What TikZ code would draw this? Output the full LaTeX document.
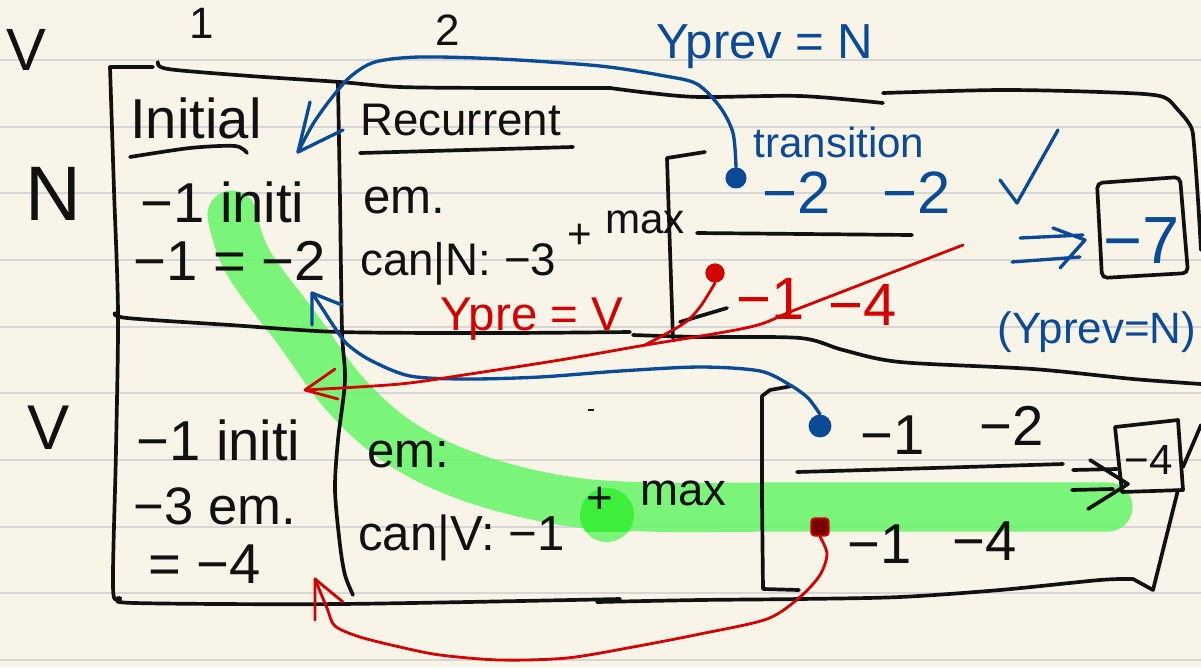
\documentclass[tikz,border=0pt]{standalone}
\usepackage{fontspec}
\setmainfont{Liberation Sans}
\definecolor{paper}{HTML}{F8F5E8}
\definecolor{rulecol}{HTML}{D6D6D6}
\definecolor{ink}{HTML}{111111}
\definecolor{penblue}{HTML}{0B4A96}
\definecolor{penred}{HTML}{D40000}
\definecolor{hlgreen}{HTML}{65F566}
\definecolor{hldark}{HTML}{3DEE3A}
\definecolor{darkred}{HTML}{7A0000}
\newcommand{\hsz}[1]{\fontsize{#1}{#1}\selectfont}
\begin{document}
\begin{tikzpicture}[x=0.02cm,y=-0.02cm,
  frame/.style={draw=ink,line width=2.1pt,line cap=round,line join=round},
  bluepen/.style={draw=penblue,line width=1.9pt,line cap=round,line join=round},
  redpen/.style={draw=penred,line width=1.6pt,line cap=round,line join=round},
  txt/.style={inner sep=0pt,text=ink},
  btxt/.style={inner sep=0pt,text=penblue},
  rtxt/.style={inner sep=0pt,text=penred},
  dotnode/.style={circle,inner sep=0pt},
]
\fill[paper] (0,0) rectangle (1201,667);
\useasboundingbox (0,0) rectangle (1201,667);
\foreach \k in {0,...,9} \draw[rulecol,line width=1.1pt] (0,{60+66.67*\k}) -- (1201,{60+66.67*\k});

% green highlight
\draw[hlgreen,opacity=0.85,line width=28pt,line cap=round] plot[smooth,tension=0.6] coordinates {(232,215) (248,262) (298,330) (345,394) (400,443) (470,477) (560,500) (650,507) (800,507) (1108,507)};
\fill[hlgreen,opacity=0.85] (607,515) circle (27);
\begin{scope}
\clip (570,481) rectangle (650,531);
\fill[hldark] (607,515) circle (27);
\end{scope}

% frame
\draw[frame] (153,67) -- plot[smooth] coordinates {(110,67) (114,190) (118,313) (116,450) (113,587) (120,598) (135,603) (340,604) (620,599)};
\draw[frame] plot[smooth] coordinates {(158,62) (168,69) (250,76) (340,82) (400,87) (500,88) (610,88)};
\draw[frame] plot[smooth] coordinates {(610,88) (650,93) (700,97) (800,96) (883,103)};
\draw[frame] plot[smooth] coordinates {(883,93) (1000,90) (1100,92) (1160,96) (1178,110) (1191,127) (1194,145) (1198,200) (1201,250)};
\draw[frame] plot[smooth] coordinates {(338,83) (340,200) (342,330) (345,380) (338,440) (335,490) (340,545) (345,575) (353,595)};
\draw[frame] plot[smooth] coordinates {(115,313) (127,318) (230,325) (340,332) (500,333) (630,332)};
\draw[frame] plot[smooth] coordinates {(633,335) (700,337) (800,338) (843,350) (900,362) (1033,369) (1133,379) (1201,384)};
\draw[frame] plot[smooth] coordinates {(597,602) (700,600) (800,599) (900,597) (1000,590) (1100,580) (1133,579)} -- (1153,590) -- (1178,490);
\draw[frame] (1115,427) -- (1178,420) -- (1183,490) -- (1122,492) -- cycle;
\draw[frame] (1183,467) -- (1201,425);
\draw[frame,rounded corners=3pt] (1097,183) -- (1180,177) -- (1188,273) -- (1102,278) -- cycle;
% brackets and fraction bars
\draw[frame] (705,152) -- (667,158) -- (670,250) -- (673,338);
\draw[frame] (680,322) -- (727,308);
\draw[frame] (697,233) -- (912,235);
\draw[frame] (792,386) -- (770,390) -- (762,396) -- (762,500) -- (763,589) -- (799,590);
\draw[frame] plot[smooth] coordinates {(797,472) (900,469) (1063,464)};
% underlines
\draw[frame] plot[smooth] coordinates {(130,157) (190,148) (235,146) (247,153)};
\draw[frame] (360,153) -- (573,147);
% black double arrow
\draw[frame] (1073,470) -- (1117,469) (1072,490) -- (1113,489) (1090,460) -- (1128,484) -- (1088,509);
\draw[ink,line width=1pt] (588,410) -- (594,410);

% texts
\node[txt,font={\hsz{34}},anchor=base] (lblV1) at (26,70) {V};
\node[txt,font={\hsz{25}},anchor=base] (col1) at (202,38) {1};
\node[txt,font={\hsz{25}},anchor=base] (col2) at (448,45) {2};
\node[txt,font={\hsz{44}},anchor=base] (rowN) at (53,220) {N};
\node[txt,font={\hsz{36}},anchor=base] (rowV) at (49,449) {V};
\node[txt,font={\hsz{32}},anchor=base west] (initial) at (130,138) {Initial};
\node[txt,font={\hsz{26}},anchor=base west] (recurrent) at (360,135) {Recurrent};
\node[txt,font={\hsz{28}},anchor=base west] (emN) at (363,213) {em.};
\node[txt,font={\hsz{26}},anchor=base west] (canN) at (360,275) {can|N: −3};
\node[txt,font={\hsz{24}}] (plusN) at (580,236) {+};
\node[txt,font={\hsz{24}},anchor=base west] (maxN) at (605,233) {max};
\node[txt,font={\hsz{32}},anchor=base west] (iN1) at (140,222) {−1 initi};
\node[txt,font={\hsz{32}},anchor=base west] (iN2) at (133,280) {−1 = −2};
\node[txt,font={\hsz{32}},anchor=base west] (iV1) at (136,460) {−1 initi};
\node[txt,font={\hsz{30}},anchor=base west] (iV2) at (133,524) {−3 em.};
\node[txt,font={\hsz{32}},anchor=base west] (iV3) at (148,583) {= −4};
\node[txt,font={\hsz{28}},anchor=base west] (emV) at (367,467) {em:};
\node[txt,font={\hsz{28}},anchor=base west] (canV) at (358,550) {can|V: −1};
\node[txt,font={\hsz{26}}] (plusV) at (600,500) {+};
\node[txt,font={\hsz{26}},anchor=base west] (maxV) at (640,505) {max};
\node[txt,font={\hsz{32}},anchor=base] (vA) at (893,454) {−1};
\node[txt,font={\hsz{32}},anchor=base] (vB) at (1012,445) {−2};
\node[txt,font={\hsz{32}},anchor=base] (vC) at (880,563) {−1};
\node[txt,font={\hsz{32}},anchor=base] (vD) at (985,560) {−4};
\node[txt,font={\hsz{24}},anchor=base] (four) at (1149,474) {−4};
\node[btxt,font={\hsz{28}},anchor=base] (yprevN) at (765,58) {Yprev = N};
\node[btxt,font={\hsz{24}},anchor=base west] (trans) at (753,157) {transition};
\node[btxt,font={\hsz{34}},anchor=base] (tA) at (797,213) {−2};
\node[btxt,font={\hsz{34}},anchor=base] (tB) at (917,213) {−2};
\node[btxt,font={\hsz{38}},anchor=base] (seven) at (1142,263) {−7};
\node[btxt,font={\hsz{25}},anchor=base] (yprevN2) at (1097,343) {(Yprev=N)};
\node[rtxt,font={\hsz{34}},anchor=base] (rA) at (771,319) {−1};
\node[rtxt,font={\hsz{34}},anchor=base] (rB) at (863,325) {−4};
\node[rtxt,font={\hsz{27}},anchor=base] (yprevV) at (532,330) {Ypre = V};

% blue marks
\draw[bluepen] (1000,180) -- (1017,203) -- (1058,130);
\draw[bluepen] (1020,238) -- (1083,235) (1012,262) -- (1080,257) (1053,228) -- (1085,240) -- (1060,268);

% dots
\node[dotnode,fill=penblue,minimum size=12pt] (dotN) at (736,178) {};
\node[dotnode,fill=penblue,minimum size=13pt] (dotV) at (820,426) {};
\node[dotnode,fill=penred,minimum size=11pt] (dotR) at (715,273) {};
\node[rectangle,fill=darkred,draw=penred,line width=1pt,inner sep=0pt,minimum size=10pt,rounded corners=2pt] (sqR) at (820,527) {};

% blue connectors
\coordinate (tipN) at (298,152);
\draw[bluepen] plot[smooth] coordinates {(dotN.north) (733,133) (720,107) (697,84) (665,76) (600,66) (500,59) (420,57) (375,62) (350,77) (330,100) (313,124) (tipN)};
\draw[bluepen] (tipN) -- ++(12,-50) (tipN) -- ++(45,-22);
\coordinate (tipV) at (312,293);
\draw[bluepen] plot[smooth] coordinates {(dotV.north) (808,398) (790,385) (760,371) (700,367) (620,371) (540,377) (467,379) (410,376) (370,360) (347,344) (335,328) (322,308) (tipV)};
\draw[bluepen] (tipV) -- ++(0,32) (tipV) -- ++(30,12);

% red connectors
\coordinate (tipR1) at (305,390);
\draw[redpen] plot[smooth,tension=0.5] coordinates {(963,245) (800,308) (750,327) (640,346) (560,360) (470,374) (400,384) (tipR1)};
\draw[redpen] plot[smooth] coordinates {(dotR.south) (700,307) (683,324) (645,345)};
\draw[redpen] (tipR1) -- ++(30,-21) (tipR1) -- ++(33,9);
\coordinate (tipR2) at (315,579);
\draw[redpen] plot[smooth] coordinates {(sqR.south) (827,554) (820,575) (800,597) (767,619) (700,634) (633,647) (567,658) (500,660) (440,655) (400,647) (360,637) (335,626) (327,608) (tipR2)};
\draw[redpen] (tipR2) -- ++(0,41) (tipR2) -- ++(28,23);
\end{tikzpicture}
\end{document}
